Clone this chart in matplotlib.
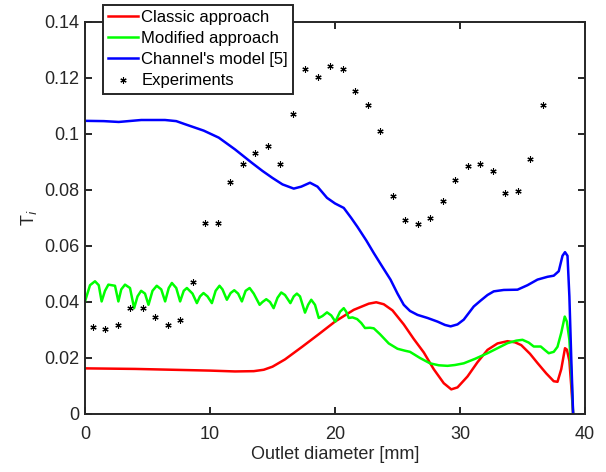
import matplotlib
matplotlib.use("Agg")
import matplotlib.pyplot as plt

plt.rcParams['font.family'] = ['Liberation Sans', 'DejaVu Sans']

# Classic approach (red)
classic_x = [0, 2, 4, 6, 8, 10, 12, 13.5, 14.3, 15, 16, 17.4, 18.7, 20.0, 21.5, 22.7, 23.3, 23.9,
             24.6, 25.5, 26.3, 27.1, 27.9, 28.7, 29.3, 29.8, 30.6, 31.4, 32.2, 33.0, 33.8, 34.4,
             34.9, 35.6, 36.2, 36.9, 37.5, 37.8, 38.1, 38.4, 38.55, 38.75, 38.9, 39.05]
classic_y = [0.0163, 0.0162, 0.0161, 0.0159, 0.0157, 0.0155, 0.0152, 0.0153, 0.0158, 0.0169, 0.0195,
             0.0241, 0.0285, 0.0330, 0.0372, 0.0394, 0.0399, 0.0392, 0.0370, 0.0320, 0.0268, 0.0220,
             0.0160, 0.0110, 0.0088, 0.0095, 0.0134, 0.0185, 0.0229, 0.0252, 0.0260, 0.0256, 0.0246,
             0.0215, 0.0182, 0.0145, 0.0117, 0.0115, 0.0160, 0.0235, 0.0230, 0.0190, 0.0100, 0.0]

# Modified approach (green)
modified_x = [0, 0.4, 0.8, 1.1, 1.33, 1.6, 1.87, 2.4, 2.67, 2.9, 3.2, 3.6, 3.93, 4.2, 4.49, 4.8, 5.08,
              5.4, 5.74, 6.1, 6.41, 6.7, 6.95, 7.3, 7.61, 7.9, 8.15, 8.6, 8.95, 9.2, 9.48, 9.8, 10.15,
              10.45, 10.76, 11.0, 11.35, 11.65, 11.94, 12.25, 12.55, 12.85, 13.17, 13.5, 13.97, 14.2,
              14.5, 14.8, 15.09, 15.4, 15.7, 16.0, 16.43, 16.7, 16.95, 17.2, 17.6, 17.85, 18.1, 18.4,
              18.7, 19.0, 19.36, 19.7, 20.03, 20.4, 20.7, 20.9, 21.1, 21.4, 21.77, 22.1, 22.4, 22.8,
              23.1, 23.6, 24.3, 25.0, 25.6, 26.0, 26.8, 27.6, 28.3, 29.0, 29.6, 30.3, 31.2, 32.2,
              33.0, 33.8, 34.5, 35.0, 35.5, 35.9, 36.46, 36.8, 37.1, 37.5, 37.8, 38.1, 38.38, 38.55,
              38.75, 38.9, 39.05]
modified_y = [0.0402, 0.0460, 0.0474, 0.0460, 0.0402, 0.0440, 0.0462, 0.0458, 0.0402, 0.0445, 0.0462,
              0.0450, 0.0378, 0.0420, 0.0440, 0.0430, 0.0390, 0.0440, 0.0458, 0.0445, 0.0402, 0.0450,
              0.0468, 0.0450, 0.0402, 0.0440, 0.0450, 0.0430, 0.0396, 0.0420, 0.0432, 0.0420, 0.0396,
              0.0440, 0.0458, 0.0445, 0.0408, 0.0432, 0.0442, 0.0430, 0.0402, 0.0440, 0.0450, 0.0430,
              0.0390, 0.0400, 0.0410, 0.0400, 0.0378, 0.0415, 0.0434, 0.0425, 0.0396, 0.0420, 0.0430,
              0.0420, 0.0362, 0.0390, 0.0408, 0.0390, 0.0343, 0.0350, 0.0363, 0.0352, 0.0330, 0.0365,
              0.0378, 0.0365, 0.0343, 0.0345, 0.0339, 0.0325, 0.0307, 0.0308, 0.0306, 0.0285, 0.0252,
              0.0233, 0.0226, 0.0222, 0.0200, 0.0181, 0.0174, 0.0172, 0.0175, 0.0181, 0.0197, 0.0217,
              0.0235, 0.0253, 0.0262, 0.0265, 0.0255, 0.0241, 0.0241, 0.0228, 0.0217, 0.0222, 0.0240,
              0.0290, 0.0348, 0.0330, 0.0265, 0.0150, 0.0]

# Channel's model [5] (blue)
channel_x = [0, 1.5, 2.7, 4.5, 6.4, 7.3, 8.0, 9.5, 10.7, 12.0, 13.35, 14.2, 15.0, 15.8, 16.7, 17.3, 18.0,
             18.6, 19.36, 20.0, 20.7, 21.3, 21.8, 22.5, 23.1, 23.8, 24.44, 25.0, 25.5, 26.0, 26.6,
             27.4, 28.2, 28.8, 29.25, 29.8, 30.3, 31.1, 31.65, 32.2, 32.7, 33.5, 34.6, 35.4, 36.2,
             37.0, 37.5, 37.9, 38.2, 38.4, 38.6, 38.75, 38.9, 39.05]
channel_y = [0.1047, 0.1046, 0.1043, 0.1050, 0.1050, 0.1046, 0.1035, 0.1012, 0.0987, 0.0945, 0.0897,
             0.0868, 0.0843, 0.0820, 0.0805, 0.0812, 0.0826, 0.0812, 0.0772, 0.0752, 0.0736, 0.0700,
             0.0668, 0.0620, 0.0575, 0.0525, 0.0480, 0.0430, 0.0390, 0.0368, 0.0354, 0.0343, 0.0330,
             0.0318, 0.0313, 0.0320, 0.0337, 0.0384, 0.0405, 0.0425, 0.0438, 0.0443, 0.0444, 0.0460,
             0.0480, 0.0490, 0.0494, 0.0510, 0.0565, 0.0578, 0.0565, 0.0420, 0.0200, 0.0]

# Experiments
exp_x = [0.6, 1.6, 2.6, 3.6, 4.6, 5.6, 6.6, 7.6, 8.6, 9.6, 10.6, 11.6, 12.6, 13.6, 14.6, 15.6, 16.6,
         17.6, 18.6, 19.6, 20.6, 21.6, 22.6, 23.6, 24.6, 25.6, 26.6, 27.6, 28.6, 29.6, 30.6, 31.6,
         32.6, 33.6, 34.6, 35.6, 36.6]
exp_y = [0.0309, 0.0304, 0.0319, 0.0377, 0.0380, 0.0347, 0.0317, 0.0334, 0.0470, 0.0683, 0.0681,
         0.0828, 0.0893, 0.0931, 0.0957, 0.0894, 0.1072, 0.1233, 0.1203, 0.1244, 0.1233, 0.1153,
         0.1103, 0.1012, 0.0780, 0.0693, 0.0678, 0.0699, 0.0760, 0.0837, 0.0887, 0.0894, 0.0868,
         0.0788, 0.0795, 0.0909, 0.1103]

labels = ['Classic approach', 'Modified approach', "Channel's model [5]", 'Experiments']
x_ticks = [0, 10, 20, 30, 40]
y_ticks = [0, 0.02, 0.04, 0.06, 0.08, 0.1, 0.12, 0.14]
y_ticklabels = ['0', '0.02', '0.04', '0.06', '0.08', '0.1', '0.12', '0.14']

W, H = 606, 472
fig = plt.figure(figsize=(W / 100, H / 100), dpi=100)
ax = fig.add_axes([85 / W, 1 - 414 / H, 500 / W, 392 / H])

lw = 1.8
ax.plot(classic_x, classic_y, color='#ff0000', lw=lw, label=labels[0])
ax.plot(modified_x, modified_y, color='#00ff00', lw=lw, label=labels[1])
ax.plot(channel_x, channel_y, color='#0000ff', lw=lw, label=labels[2])
ax.plot(exp_x, exp_y, linestyle='none', marker=(6, 2, 0), markersize=4.5, mew=0.8,
        color='black', label=labels[3])

ax.set_xlim(0, 40)
ax.set_ylim(0, 0.14)
ax.set_xticks(x_ticks)
ax.set_xticklabels([str(t) for t in x_ticks])
ax.set_yticks(y_ticks)
ax.set_yticklabels(y_ticklabels)

spine_col = '#262626'
for s in ax.spines.values():
    s.set_linewidth(1.4)
    s.set_color(spine_col)
ax.tick_params(direction='in', length=5, width=1.4, color=spine_col, labelsize=13,
               labelcolor='#262626', top=True, right=True, pad=4)
ax.tick_params(axis='x', pad=8.5)

ax.set_xlabel('Outlet diameter [mm]', fontsize=13, color='#262626', labelpad=2)
ax.set_ylabel('T$_i$', fontsize=13, color='#262626', labelpad=4)

leg = ax.legend(loc='upper left', bbox_to_anchor=(103 / W, 1 - 5 / H),
                bbox_transform=fig.transFigure, fontsize=12, frameon=True, fancybox=False,
                borderpad=0.3, labelspacing=0.37, handlelength=1.8, handletextpad=0.2,
                borderaxespad=0)
leg.get_frame().set_edgecolor(spine_col)
leg.get_frame().set_linewidth(1.4)
leg.get_frame().set_alpha(1)
for t in leg.get_texts():
    t.set_color('black')

fig.savefig('out.png', dpi=100)
